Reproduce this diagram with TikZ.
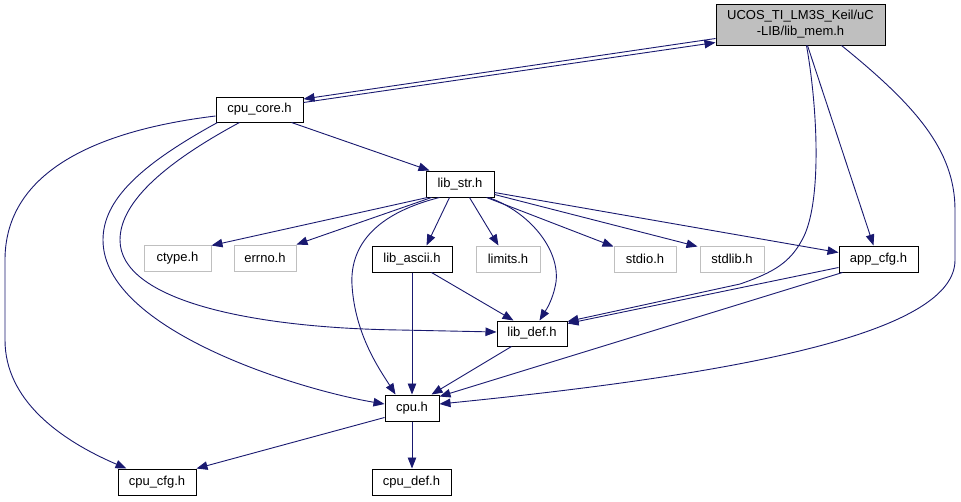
\documentclass[tikz,border=0pt]{standalone}
\usepackage{fontspec}
\setmainfont{Liberation Sans}
\usetikzlibrary{arrows.meta}
\definecolor{edgeblue}{HTML}{191970}
\definecolor{missgrey}{HTML}{BFBFBF}
\begin{document}
\begin{tikzpicture}[x=1pt,y=-1pt,
  box/.style={draw=black,line width=1pt,fill=white,inner sep=0pt,minimum height=26pt,
    font=\fontsize{13}{16}\selectfont,align=center},
  missbox/.style={box,draw=missgrey},
  topbox/.style={box,fill=missgrey},
  dep/.style={draw=edgeblue,line width=0.9pt,-{Triangle[length=11pt,width=8.5pt]}}
]
\useasboundingbox (0,0) rectangle (961,501);
\fill[white] (0,0) rectangle (961,501);

\node[topbox,minimum width=169pt,minimum height=41pt] (libmem) at (800.5,24.5) {UCOS\_TI\_LM3S\_Keil/uC\\-LIB/lib\_mem.h};
\node[box,minimum width=87pt,minimum height=25pt] (cpucore) at (259.5,109.5) {cpu\_core.h};
\node[box,minimum width=68pt] (libstr) at (460,184) {lib\_str.h};
\node[missbox,minimum width=67pt] (ctype) at (177.5,258) {ctype.h};
\node[missbox,minimum width=62pt] (errno) at (265,258) {errno.h};
\node[box,minimum width=80pt] (libascii) at (412,259) {lib\_ascii.h};
\node[missbox,minimum width=64pt] (limits) at (508,259) {limits.h};
\node[missbox,minimum width=62pt] (stdio) at (645,259) {stdio.h};
\node[missbox,minimum width=64pt] (stdlib) at (732,259) {stdlib.h};
\node[box,minimum width=79pt] (appcfg) at (878.5,259) {app\_cfg.h};
\node[box,minimum width=70pt,minimum height=25pt] (libdef) at (532,333.5) {lib\_def.h};
\node[box,minimum width=54pt] (cpu) at (412,408) {cpu.h};
\node[box,minimum width=78pt] (cpucfg) at (157,482) {cpu\_cfg.h};
\node[box,minimum width=79pt] (cpudef) at (411.5,482) {cpu\_def.h};

% lib_mem <-> cpu_core
\draw[dep] ([yshift=-6pt]cpucore.north east) -- ([yshift=3pt]libmem.south west);
\draw[dep] ([yshift=7pt]libmem.south west) -- ([yshift=-2.5pt]cpucore.north east);
% lib_mem -> lib_def
\draw[dep] ([xshift=91pt]libmem.south west) .. controls (818,110) and (822,205) .. (802,240)
  .. controls (790,262) and (775,272) .. (740,284) -- ([yshift=-1pt]libdef.north east);
% lib_mem -> app_cfg
\draw[dep] ([xshift=92pt]libmem.south west) -- ([xshift=35pt]appcfg.north west);
% lib_mem -> cpu
\draw[dep] ([xshift=126pt]libmem.south west) .. controls (915,105) and (955,150) .. (955,210)
  -- (955,260) .. controls (955,330) and (760,372) .. ([yshift=4pt]cpu.east);
% cpu_core edges
\draw[dep] ([xshift=76pt]cpucore.south west) -- ([xshift=4pt]libstr.north west);
\draw[dep] ([yshift=-6.5pt]cpucore.west) .. controls (100,130) and (5,170) .. (5,260)
  -- (5,340) .. controls (5,400) and (60,440) .. ([xshift=9pt]cpucfg.north west);
\draw[dep] ([xshift=24pt]cpucore.south west) .. controls (170,160) and (120,200) .. (120,240)
  .. controls (120,300) and (250,328) .. (400,330) -- ([yshift=1.5pt]libdef.west);
\draw[dep] ([xshift=2pt]cpucore.south west) .. controls (140,165) and (103,200) .. (103,240)
  .. controls (103,330) and (300,390) .. ([yshift=4pt]cpu.west);
% lib_str edges
\draw[dep] ([xshift=2pt]libstr.south west) -- ([yshift=-1pt]ctype.north east);
\draw[dep] ([xshift=6pt]libstr.south west) -- (errno.north east);
\draw[dep] ([xshift=24pt]libstr.south west) -- ([xshift=55pt]libascii.north west);
\draw[dep] ([xshift=44pt]libstr.south west) -- ([xshift=23pt]limits.north west);
\draw[dep] ([xshift=61pt]libstr.south west) -- ([yshift=-1pt]stdio.north west);
\draw[dep] ([yshift=3pt]libstr.south east) -- ([xshift=-2pt,yshift=-1pt]stdlib.north west);
\draw[dep] ([yshift=5pt]libstr.south east) -- ([yshift=-7pt]appcfg.north west);
\draw[dep] ([xshift=-6pt]libstr.south east) .. controls (530,212) and (560,250) .. (556,282)
  .. controls (553,300) and (546,310) .. ([xshift=43pt]libdef.north west);
\draw[dep] ([xshift=14pt]libstr.south west) .. controls (370,215) and (350,250) .. (352,285)
  .. controls (355,335) and (380,370) .. ([xshift=11pt]cpu.north west);
% lib_ascii edges
\draw[dep] (libascii.south) -- (cpu.north);
\draw[dep] ([xshift=60pt]libascii.south west) -- ([xshift=17pt]libdef.north west);
% app_cfg edges
\draw[dep] ([yshift=5pt]appcfg.south west) -- ([yshift=-3pt]libdef.north east);
\draw[dep] ([xshift=4pt]appcfg.south west) -- ([yshift=-2pt]cpu.north east);
% lib_def -> cpu
\draw[dep] ([xshift=15pt]libdef.south west) -- ([xshift=47pt]cpu.north west);
% cpu edges
\draw[dep] ([yshift=4pt]cpu.south west) -- (cpucfg.north east);
\draw[dep] (cpu.south) -- (cpu.south |- cpudef.north);
\end{tikzpicture}
\end{document}
